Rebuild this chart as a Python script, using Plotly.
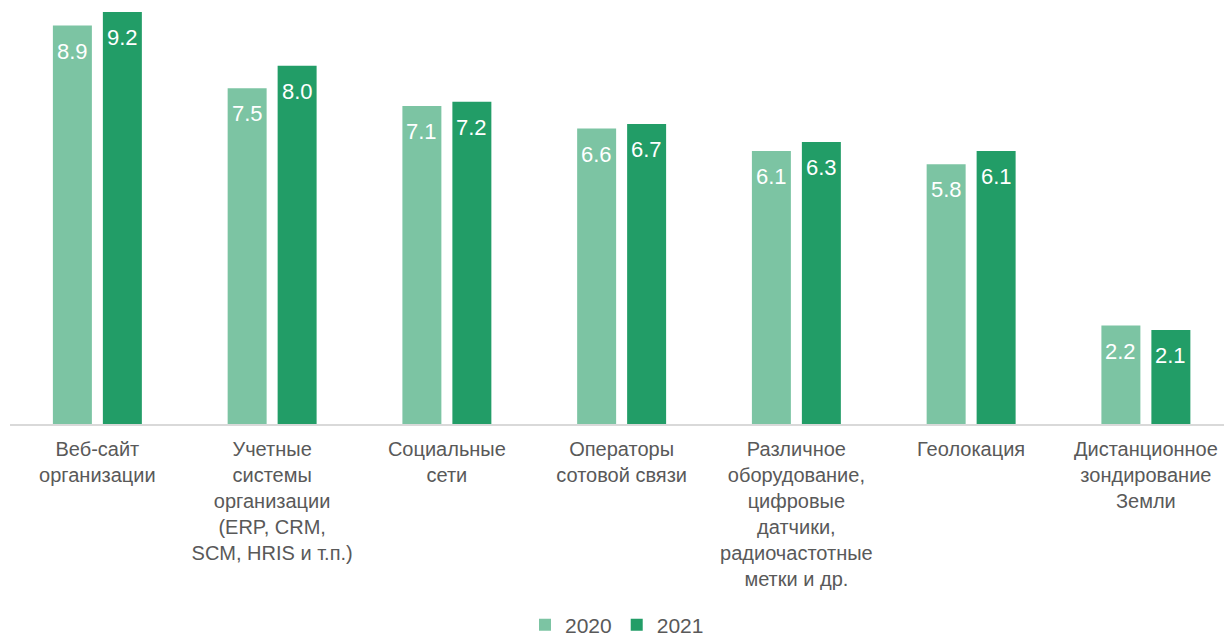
import plotly.graph_objects as go

categories = [
    "Веб-сайт<br>организации",
    "Учетные<br>системы<br>организации<br>(ERP, CRM,<br>SCM, HRIS и т.п.)",
    "Социальные<br>сети",
    "Операторы<br>сотовой связи",
    "Различное<br>оборудование,<br>цифровые<br>датчики,<br>радиочастотные<br>метки и др.",
    "Геолокация",
    "Дистанционное<br>зондирование<br>Земли",
]
values_2020 = [8.9, 7.5, 7.1, 6.6, 6.1, 5.8, 2.2]
values_2021 = [9.2, 8.0, 7.2, 6.7, 6.3, 6.1, 2.1]
series_names = ["2020", "2021"]
colors = ["#7CC4A3", "#229D67"]
FONT = "Liberation Sans, Arial, sans-serif"

fig = go.Figure()
for name, vals, col in zip(series_names, [values_2020, values_2021], colors):
    fig.add_trace(go.Bar(
        x=categories, y=vals, name=name, marker=dict(color=col, line=dict(width=0)),
        hoverinfo="skip",
    ))

annotations = []
for shift, vals in zip([-25, 25], [values_2020, values_2021]):
    for c, v in zip(categories, vals):
        annotations.append(dict(
            x=c, y=v, xref="x", yref="y", text=f"{v:.1f}", showarrow=False,
            xshift=shift, yshift=-11, yanchor="top", xanchor="center",
            font=dict(color="white", size=22, family=FONT),
        ))

fig.update_layout(
    width=1224, height=640,
    margin=dict(l=10, r=0, t=0, b=216, autoexpand=False),
    paper_bgcolor="white", plot_bgcolor="white",
    barmode="group", bargap=0.428, bargroupgap=0.22,
    font=dict(family=FONT, color="#595959", size=20),
    showlegend=True,
    annotations=annotations,
    legend=dict(orientation="h", x=0.5, xanchor="center", y=-0.474, yanchor="middle",
                font=dict(size=21, color="#595959", family=FONT), traceorder="normal",
                itemwidth=30),
    xaxis=dict(range=[-0.5, 6.447], showline=True, linecolor="#D9D9D9", linewidth=2,
               ticks="", showgrid=False, tickfont=dict(size=20, color="#595959", family=FONT),
               ticklabelstandoff=6, automargin=False),
    yaxis=dict(range=[0, 9.47], visible=False, showgrid=False, zeroline=False, automargin=False),
)

fig.write_html("out.html")
